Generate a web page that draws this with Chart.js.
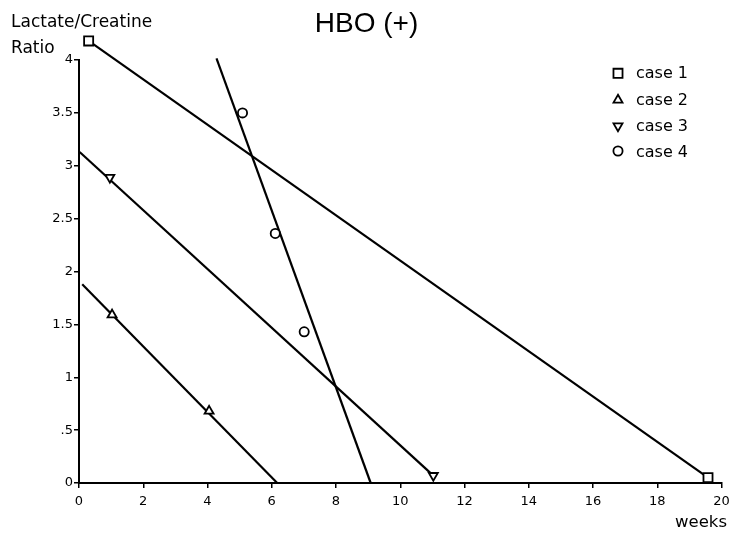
<!DOCTYPE html>
<html>
<head>
<meta charset="utf-8">
<script src="https://cdn.jsdelivr.net/npm/chart.js@4/dist/chart.umd.min.js"></script>
<style>
  html, body { margin: 0; padding: 0; background: #fff; }
  #wrap { width: 731px; height: 533px; position: relative; }
</style>
</head>
<body>
<div id="wrap"><canvas id="c" width="731" height="533"></canvas></div>
<script>
// ---- Data ----
const seriesNames = ['case 1', 'case 2', 'case 3', 'case 4'];
const case1Points = [{x: 0.3, y: 4.18}, {x: 19.58, y: 0.05}];
const case2Points = [{x: 1.03, y: 1.59}, {x: 4.05, y: 0.68}];
const case3Points = [{x: 0.96, y: 2.89}, {x: 11.03, y: 0.07}];
const case4Points = [{x: 5.09, y: 3.50}, {x: 6.11, y: 2.36}, {x: 7.01, y: 1.43}];
// fitted trend lines as drawn in the figure (end points)
const case1Line = [{x: 0.3, y: 4.18}, {x: 19.58, y: 0.05}];
const case2Line = [{x: 0.1, y: 1.88}, {x: 6.17, y: 0}];
const case3Line = [{x: 0.02, y: 3.13}, {x: 11.03, y: 0.07}];
const case4Line = [{x: 4.28, y: 4.016}, {x: 9.08, y: 0}];
const xTicks = [0, 2, 4, 6, 8, 10, 12, 14, 16, 18, 20];
const yTickLabels = ['0', '.5', '1', '1.5', '2', '2.5', '3', '3.5', '4'];
const titleText = 'HBO (+)';
const yTitleLines = ['Lactate/Creatine', 'Ratio'];
const xTitleText = 'weeks';

const markerStyles = [
  {pointStyle: 'rect', radius: 6.4, rotation: 0},
  {pointStyle: 'triangle', radius: 5.2, rotation: 0},
  {pointStyle: 'triangle', radius: 5.2, rotation: 180},
  {pointStyle: 'circle', radius: 4.6, rotation: 0}
];

function markerDataset(name, pts, st) {
  return {
    type: 'scatter', label: name, data: pts,
    pointStyle: st.pointStyle, pointRadius: st.radius, pointRotation: st.rotation,
    pointBackgroundColor: '#fff', pointBorderColor: '#000', pointBorderWidth: 1.8,
    pointHoverRadius: st.radius, showLine: false, clip: false
  };
}
function lineDataset(pts) {
  return {
    type: 'line', label: '', data: pts, borderColor: '#000', borderWidth: 2.2,
    pointRadius: 0, pointHoverRadius: 0, fill: false, tension: 0, clip: false
  };
}

const allPoints = [case1Points, case2Points, case3Points, case4Points];
const allLines = [case1Line, case2Line, case3Line, case4Line];

const datasets = [];
for (let i = 0; i < 4; i++) datasets.push(markerDataset(seriesNames[i], allPoints[i], markerStyles[i]));
for (let i = 0; i < 4; i++) datasets.push(lineDataset(allLines[i]));

// Let markers that sit just above the top of the axis (like the first case 1 square) be drawn
const areaPlugin = {
  id: 'expandArea',
  beforeDatasetsDraw(chart) {
    chart._savedArea = chart.chartArea;
    const a = chart.chartArea;
    chart.chartArea = {left: a.left - 20, right: a.right + 20, top: a.top - 40, bottom: a.bottom + 20, width: a.width + 40, height: a.height + 60};
  },
  afterDatasetsDraw(chart) {
    if (chart._savedArea) chart.chartArea = chart._savedArea;
  }
};

const textPlugin = {
  id: 'texts',
  afterDraw(chart) {
    const ctx = chart.ctx;
    ctx.save();
    ctx.fillStyle = '#000';
    ctx.textBaseline = 'alphabetic';
    // Title
    ctx.font = '28px "Liberation Sans", Arial, sans-serif';
    ctx.textAlign = 'center';
    ctx.fillText(titleText, 366.5, 32);
    // Y axis title
    ctx.font = '17px "DejaVu Sans", sans-serif';
    ctx.textAlign = 'left';
    ctx.fillText(yTitleLines[0], 11, 26.7);
    ctx.fillText(yTitleLines[1], 11, 52.7);
    // X axis title
    ctx.font = '16.5px "DejaVu Sans", sans-serif';
    ctx.textAlign = 'right';
    ctx.fillText(xTitleText, 727, 527);
    // Legend
    const baselines = [78.3, 104.5, 131, 157];
    const markerY = [73.3, 100, 126, 151];
    ctx.font = '16px "DejaVu Sans", sans-serif';
    ctx.textAlign = 'left';
    for (let i = 0; i < 4; i++) {
      ctx.fillStyle = '#000';
      ctx.fillText(seriesNames[i], 636, baselines[i]);
      ctx.fillStyle = '#fff';
      ctx.strokeStyle = '#000';
      ctx.lineWidth = 1.8;
      Chart.helpers.drawPoint(ctx, {
        pointStyle: markerStyles[i].pointStyle,
        rotation: markerStyles[i].rotation,
        radius: markerStyles[i].radius,
        borderWidth: 1.8
      }, 618, markerY[i]);
    }
    ctx.restore();
  }
};

new Chart(document.getElementById('c'), {
  type: 'scatter',
  data: { datasets },
  options: {
    responsive: false,
    animation: false,
    events: [],
    layout: { padding: { top: 60, right: 9.5, left: 0, bottom: 0 } },
    plugins: { legend: { display: false }, tooltip: { enabled: false }, title: { display: false } },
    scales: {
      x: {
        type: 'linear', min: 0, max: 20,
        afterFit(s) { s.height = 50; s.paddingLeft = 0; s.paddingRight = 0; },
        afterBuildTicks(s) { s.ticks = xTicks.map(v => ({value: v})); },
        grid: { display: true, drawOnChartArea: false, drawTicks: true, tickLength: 5, color: '#000', lineWidth: 1.5 },
        border: { display: true, color: '#000', width: 2 },
        ticks: { color: '#000', font: { family: '"DejaVu Sans", sans-serif', size: 13 }, padding: 6, maxRotation: 0, autoSkip: false }
      },
      y: {
        type: 'linear', min: 0, max: 4,
        afterFit(s) { s.width = 79; },
        ticks: {
          stepSize: 0.5, color: '#000', padding: 1,
          font: { family: '"DejaVu Sans", sans-serif', size: 13 },
          callback: (v, i) => yTickLabels[i]
        },
        grid: { display: true, drawOnChartArea: false, drawTicks: true, tickLength: 5, color: '#000', lineWidth: 1.5 },
        border: { display: true, color: '#000', width: 2 }
      }
    }
  },
  plugins: [areaPlugin, textPlugin]
});
</script>
</body>
</html>
